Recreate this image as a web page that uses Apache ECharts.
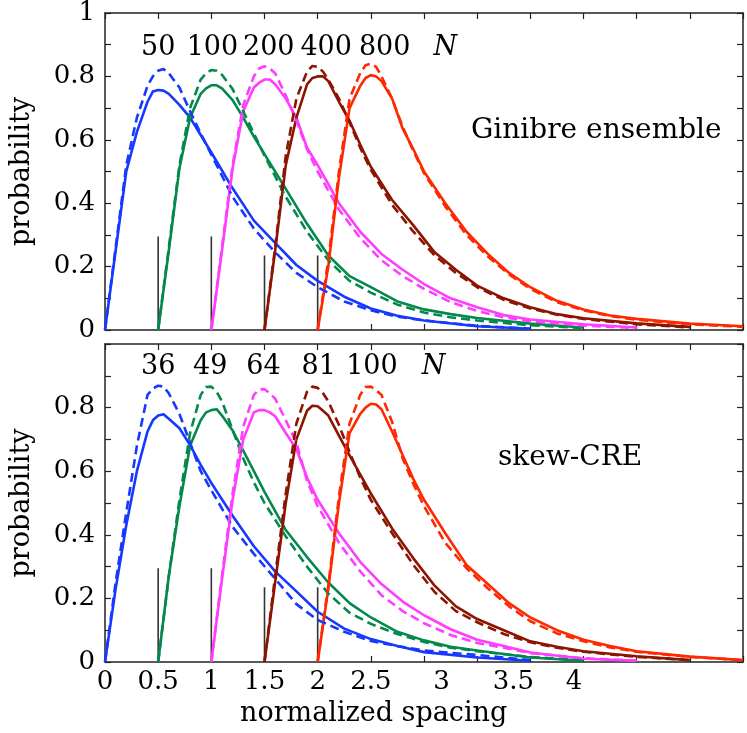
<!DOCTYPE html>
<html>
<head>
<meta charset="utf-8">
<script src="https://cdn.jsdelivr.net/npm/echarts@6/dist/echarts.min.js"></script>
<style>
  html, body { margin: 0; padding: 0; background: #fff; }
  #chart { width: 747px; height: 733px; }
</style>
</head>
<body>
<div id="chart"></div>
<script>
// spacing grid (local to each curve) and the shift of each curve
const S = [0, 0.1, 0.2, 0.3, 0.4, 0.45, 0.5, 0.55, 0.6, 0.7, 0.8, 0.9, 1.0, 1.2, 1.4, 1.6, 1.8, 2.0, 2.25, 2.5, 2.75, 3.0, 3.5, 4.0]
const OFFSETS = [0, 0.5, 1, 1.5, 2]
const COLORS = ['#1638ff', '#03894c', '#ff3cff', '#8c1400', '#ff2800']

const TOP_N = ['50', '100', '200', '400', '800']
const BOT_N = ['36', '49', '64', '81', '100']

// Ginibre ensemble: simulation (solid) and theory (dashed)
const TOP_SIM = [
  [0, 0.25, 0.50, 0.625, 0.72, 0.752, 0.757, 0.755, 0.745, 0.71, 0.67, 0.615, 0.56, 0.447, 0.345, 0.275, 0.205, 0.155, 0.105, 0.068, 0.045, 0.03, 0.012, 0.004],
  [0, 0.25, 0.51, 0.67, 0.745, 0.762, 0.772, 0.772, 0.762, 0.725, 0.67, 0.61, 0.555, 0.445, 0.335, 0.235, 0.17, 0.135, 0.09, 0.065, 0.05, 0.038, 0.02, 0.008],
  [0, 0.25, 0.51, 0.69, 0.765, 0.78, 0.79, 0.79, 0.775, 0.73, 0.67, 0.575, 0.52, 0.40, 0.31, 0.24, 0.19, 0.145, 0.10, 0.072, 0.047, 0.033, 0.018, 0.008],
  [0, 0.25, 0.52, 0.67, 0.775, 0.795, 0.80, 0.80, 0.785, 0.72, 0.66, 0.585, 0.515, 0.41, 0.33, 0.245, 0.19, 0.14, 0.10, 0.072, 0.05, 0.037, 0.021, 0.01],
  [0, 0.2, 0.48, 0.70, 0.77, 0.795, 0.804, 0.80, 0.785, 0.73, 0.635, 0.57, 0.50, 0.40, 0.31, 0.24, 0.18, 0.135, 0.092, 0.065, 0.046, 0.035, 0.02, 0.012]
]
const TOP_THEORY = [
  [0, 0.26, 0.52, 0.67, 0.77, 0.80, 0.818, 0.823, 0.81, 0.765, 0.69, 0.62, 0.553, 0.42, 0.32, 0.245, 0.18, 0.135, 0.09, 0.062, 0.042, 0.03, 0.013, 0.004],
  [0, 0.26, 0.52, 0.70, 0.79, 0.81, 0.82, 0.818, 0.805, 0.76, 0.69, 0.62, 0.55, 0.42, 0.31, 0.22, 0.155, 0.118, 0.08, 0.055, 0.04, 0.03, 0.015, 0.006],
  [0, 0.26, 0.52, 0.71, 0.80, 0.825, 0.832, 0.825, 0.81, 0.74, 0.66, 0.57, 0.50, 0.38, 0.29, 0.22, 0.17, 0.13, 0.088, 0.06, 0.04, 0.028, 0.014, 0.006],
  [0, 0.26, 0.55, 0.73, 0.815, 0.833, 0.83, 0.815, 0.79, 0.73, 0.655, 0.575, 0.505, 0.395, 0.31, 0.235, 0.18, 0.135, 0.095, 0.068, 0.048, 0.035, 0.018, 0.008],
  [0, 0.22, 0.50, 0.73, 0.81, 0.835, 0.84, 0.83, 0.80, 0.73, 0.64, 0.565, 0.495, 0.39, 0.30, 0.232, 0.175, 0.13, 0.088, 0.062, 0.044, 0.032, 0.018, 0.01]
]

// skew-CRE: simulation (solid) and theory (dashed)
const BOT_SIM = [
  [0, 0.23, 0.43, 0.60, 0.725, 0.76, 0.775, 0.779, 0.765, 0.735, 0.682, 0.62, 0.563, 0.46, 0.364, 0.285, 0.222, 0.158, 0.105, 0.072, 0.05, 0.031, 0.014, 0.004],
  [0, 0.27, 0.49, 0.68, 0.76, 0.785, 0.792, 0.795, 0.775, 0.728, 0.665, 0.60, 0.535, 0.415, 0.33, 0.25, 0.185, 0.14, 0.095, 0.068, 0.048, 0.036, 0.014, 0.004],
  [0, 0.26, 0.51, 0.70, 0.785, 0.792, 0.792, 0.785, 0.773, 0.72, 0.67, 0.58, 0.51, 0.405, 0.315, 0.245, 0.19, 0.147, 0.103, 0.07, 0.05, 0.03, 0.01, 0.004],
  [0, 0.25, 0.50, 0.70, 0.79, 0.806, 0.804, 0.79, 0.775, 0.712, 0.65, 0.59, 0.53, 0.42, 0.326, 0.24, 0.175, 0.135, 0.10, 0.065, 0.048, 0.034, 0.018, 0.006],
  [0, 0.23, 0.50, 0.72, 0.78, 0.80, 0.812, 0.81, 0.795, 0.725, 0.65, 0.575, 0.51, 0.405, 0.305, 0.245, 0.185, 0.14, 0.10, 0.07, 0.05, 0.034, 0.017, 0.006]
]
const BOT_THEORY = [
  [0, 0.25, 0.47, 0.68, 0.84, 0.86, 0.869, 0.866, 0.845, 0.78, 0.69, 0.60, 0.54, 0.425, 0.34, 0.262, 0.182, 0.132, 0.095, 0.066, 0.05, 0.036, 0.022, 0.006],
  [0, 0.27, 0.51, 0.72, 0.84, 0.865, 0.866, 0.85, 0.82, 0.73, 0.64, 0.565, 0.50, 0.395, 0.30, 0.215, 0.155, 0.12, 0.088, 0.063, 0.045, 0.034, 0.016, 0.005],
  [0, 0.27, 0.53, 0.74, 0.84, 0.857, 0.858, 0.845, 0.828, 0.76, 0.69, 0.57, 0.49, 0.375, 0.285, 0.21, 0.16, 0.122, 0.085, 0.06, 0.045, 0.028, 0.012, 0.004],
  [0, 0.27, 0.53, 0.75, 0.85, 0.866, 0.862, 0.845, 0.82, 0.745, 0.66, 0.58, 0.51, 0.405, 0.305, 0.22, 0.16, 0.125, 0.088, 0.062, 0.045, 0.032, 0.016, 0.006],
  [0, 0.24, 0.52, 0.75, 0.84, 0.865, 0.866, 0.855, 0.84, 0.755, 0.64, 0.56, 0.49, 0.375, 0.295, 0.232, 0.175, 0.128, 0.09, 0.065, 0.046, 0.032, 0.016, 0.006]
]

// short black markers at the curve origins
const GAP_X = [0.5, 1, 1.5, 2]
const GAP_H = [0.295, 0.295, 0.235, 0.235]

// x axis ticks and (hand placed) tick labels
const X_TICKS = [0, 0.5, 1, 1.5, 2, 2.5, 3, 3.5, 4, 4.5, 5, 5.5, 6]
const X_LABEL_POS = [0, 0.5, 1, 1.5, 2, 2.5, 3.165, 3.84, 4.41]
const X_LABELS = ['0', '0.5', '1', '1.5', '2', '2.5', '3', '3.5', '4']

// where the N labels sit, in data units
const TOP_N_X = [0.5, 1.01, 1.54, 2.08, 2.63, 3.2]
const BOT_N_X = [0.5, 0.99, 1.49, 2.01, 2.51, 3.09]

const FONT = 'DejaVu Serif'
const AXIS_COLOR = '#222'

const chart = echarts.init(document.getElementById('chart'))

function curve(ys, off) {
  return S.map((s, i) => [s + off, ys[i]])
}

function yLabel(hideTop) {
  return v => {
    const t = Math.round(v * 10)
    if (t % 2 !== 0) return ''
    if (t === 10) return hideTop ? '' : '1'
    if (t === 0) return '0'
    return (t / 10).toFixed(1)
  }
}

function panelSeries(gi, sim, theory, names, nX, nY) {
  const out = []
  GAP_X.forEach((x, i) => {
    out.push({
      type: 'line', xAxisIndex: gi, yAxisIndex: gi, silent: true,
      symbol: 'none', z: 1,
      lineStyle: { color: '#333', width: 1.6 },
      data: [[x, 0], [x, GAP_H[i]]]
    })
  })
  OFFSETS.forEach((off, k) => {
    out.push({
      type: 'line', xAxisIndex: gi, yAxisIndex: gi, silent: true,
      symbol: 'none', z: 2,
      lineStyle: { color: COLORS[k], width: 2.6 },
      data: curve(sim[k], off)
    })
    out.push({
      type: 'line', xAxisIndex: gi, yAxisIndex: gi, silent: true,
      symbol: 'none', z: 3,
      lineStyle: { color: COLORS[k], width: 2.6, type: [9, 5] },
      data: curve(theory[k], off)
    })
  })
  const labels = names.map((n, i) => ({ name: n, value: [nX[i], nY] }))
  labels.push({ name: 'N', value: [nX[names.length], nY], label: { fontStyle: 'italic' } })
  out.push({
    type: 'scatter', xAxisIndex: gi, yAxisIndex: gi, silent: true,
    symbolSize: 1, itemStyle: { color: 'rgba(0,0,0,0)', opacity: 1 }, z: 5,
    label: {
      show: true, position: 'inside', formatter: p => p.name,
      fontFamily: FONT, fontSize: 27, color: '#000'
    },
    data: labels
  })
  return out
}

const baseX = (gi, pos, labels) => ({
  type: 'value', gridIndex: gi, position: pos, min: 0, max: 6,
  axisLine: { show: true, onZero: false, lineStyle: { color: AXIS_COLOR, width: 1.5 } },
  axisTick: { show: true, inside: true, length: 6, customValues: X_TICKS, lineStyle: { color: AXIS_COLOR, width: 1.2 } },
  axisLabel: labels ? {
    show: true, customValues: X_LABEL_POS, margin: 7,
    fontFamily: FONT, fontSize: 26, color: '#000',
    formatter: v => {
      const i = X_LABEL_POS.findIndex(p => Math.abs(p - v) < 1e-6)
      return i >= 0 ? X_LABELS[i] : ''
    }
  } : { show: false },
  splitLine: { show: false }
})

const baseY = (gi, pos, labels, hideTop) => ({
  type: 'value', gridIndex: gi, position: pos, min: 0, max: 1, interval: 0.1,
  axisLine: { show: true, onZero: false, lineStyle: { color: AXIS_COLOR, width: 1.5 } },
  axisTick: { show: true, inside: true, length: 6, lineStyle: { color: AXIS_COLOR, width: 1.2 } },
  axisLabel: labels ? {
    show: true, margin: 10, fontFamily: FONT, fontSize: 26, color: '#000',
    formatter: yLabel(hideTop)
  } : { show: false },
  splitLine: { show: false },
  name: labels ? 'probability' : '',
  nameLocation: 'middle',
  nameGap: 70,
  nameTextStyle: { fontFamily: FONT, fontSize: 27, color: '#000' }
})

const option = {
  animation: false,
  backgroundColor: '#fff',
  grid: [
    { left: 103, right: 4, top: 12, height: 318 },
    { left: 103, right: 4, top: 344, height: 318 }
  ],
  xAxis: [
    baseX(0, 'bottom', false),
    baseX(1, 'bottom', true),
    baseX(0, 'top', false),
    baseX(1, 'top', false)
  ],
  yAxis: [
    baseY(0, 'left', true, false),
    baseY(1, 'left', true, true),
    baseY(0, 'right', false, false),
    baseY(1, 'right', false, false)
  ],
  graphic: [
    {
      type: 'text', left: 471, top: 117,
      style: { text: 'Ginibre ensemble', font: '28px "DejaVu Serif"', fill: '#000' }
    },
    {
      type: 'text', left: 498, top: 444,
      style: { text: 'skew-CRE', font: '28px "DejaVu Serif"', fill: '#000' }
    },
    {
      type: 'text', left: 240, top: 700,
      style: { text: 'normalized spacing', font: '27px "DejaVu Serif"', fill: '#000' }
    }
  ],
  series: [
    ...panelSeries(0, TOP_SIM, TOP_THEORY, TOP_N, TOP_N_X, 0.89),
    ...panelSeries(1, BOT_SIM, BOT_THEORY, BOT_N, BOT_N_X, 0.928)
  ]
}

chart.setOption(option)
</script>
</body>
</html>
